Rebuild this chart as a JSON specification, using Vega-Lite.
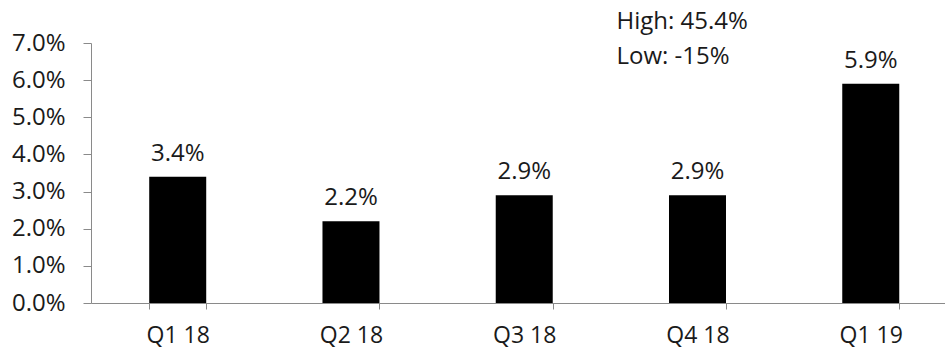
{
  "$schema": "https://vega.github.io/schema/vega-lite/v6.json",
  "autosize": {"type": "none"},
  "width": 854,
  "height": 260,
  "padding": {"left": 91, "top": 43, "right": 0, "bottom": 46},
  "background": "white",
  "config": {
    "view": {"stroke": null},
    "font": "Open Sans",
    "axis": {"labelFont": "Open Sans", "labelFontSize": 24, "labelColor": "#1a1a1a", "domainColor": "#8a8a8a", "tickColor": "#8a8a8a", "grid": false, "title": null}
  },
  "datasets": {
    "bars": [
      {"quarter": "Q1 18", "value": 0.034, "label": "3.4%"},
      {"quarter": "Q2 18", "value": 0.022, "label": "2.2%"},
      {"quarter": "Q3 18", "value": 0.029, "label": "2.9%"},
      {"quarter": "Q4 18", "value": 0.029, "label": "2.9%"},
      {"quarter": "Q1 19", "value": 0.059, "label": "5.9%"}
    ],
    "notes": [
      {"quarter": "Q4 18", "value": 0.0757, "label": "High: 45.4%"},
      {"quarter": "Q4 18", "value": 0.0662, "label": "Low: -15%"}
    ]
  },
  "encoding": {
    "x": {
      "field": "quarter", "type": "nominal", "sort": ["Q1 18", "Q2 18", "Q3 18", "Q4 18", "Q1 19"],
      "scale": {"domain": ["Q1 18", "Q2 18", "Q3 18", "Q4 18", "Q1 19"], "paddingInner": 0.671, "paddingOuter": 0.3, "align": 0.56},
      "axis": {"labelAngle": 0, "tickBand": "extent", "tickSize": 6, "labelPadding": 15, "labelFontSize": 23, "domainWidth": 1}
    },
    "y": {
      "field": "value", "type": "quantitative",
      "scale": {"domain": [0, 0.07], "nice": false},
      "axis": {"format": ".1%", "values": [0, 0.01, 0.02, 0.03, 0.04, 0.05, 0.06, 0.07], "tickSize": 8, "labelPadding": 18, "labelOverlap": false, "labelFlush": false, "labelBound": false}
    }
  },
  "layer": [
    {
      "data": {"name": "bars"},
      "mark": {"type": "bar", "color": "#000000"}
    },
    {
      "data": {"name": "bars"},
      "mark": {"type": "text", "fontSize": 24, "color": "#1a1a1a", "baseline": "alphabetic", "dy": -16},
      "encoding": {"text": {"field": "label"}}
    },
    {
      "data": {"name": "notes"},
      "mark": {"type": "text", "fontSize": 24, "color": "#1a1a1a", "baseline": "middle", "align": "left", "dx": -81},
      "encoding": {"text": {"field": "label"}}
    }
  ]
}
